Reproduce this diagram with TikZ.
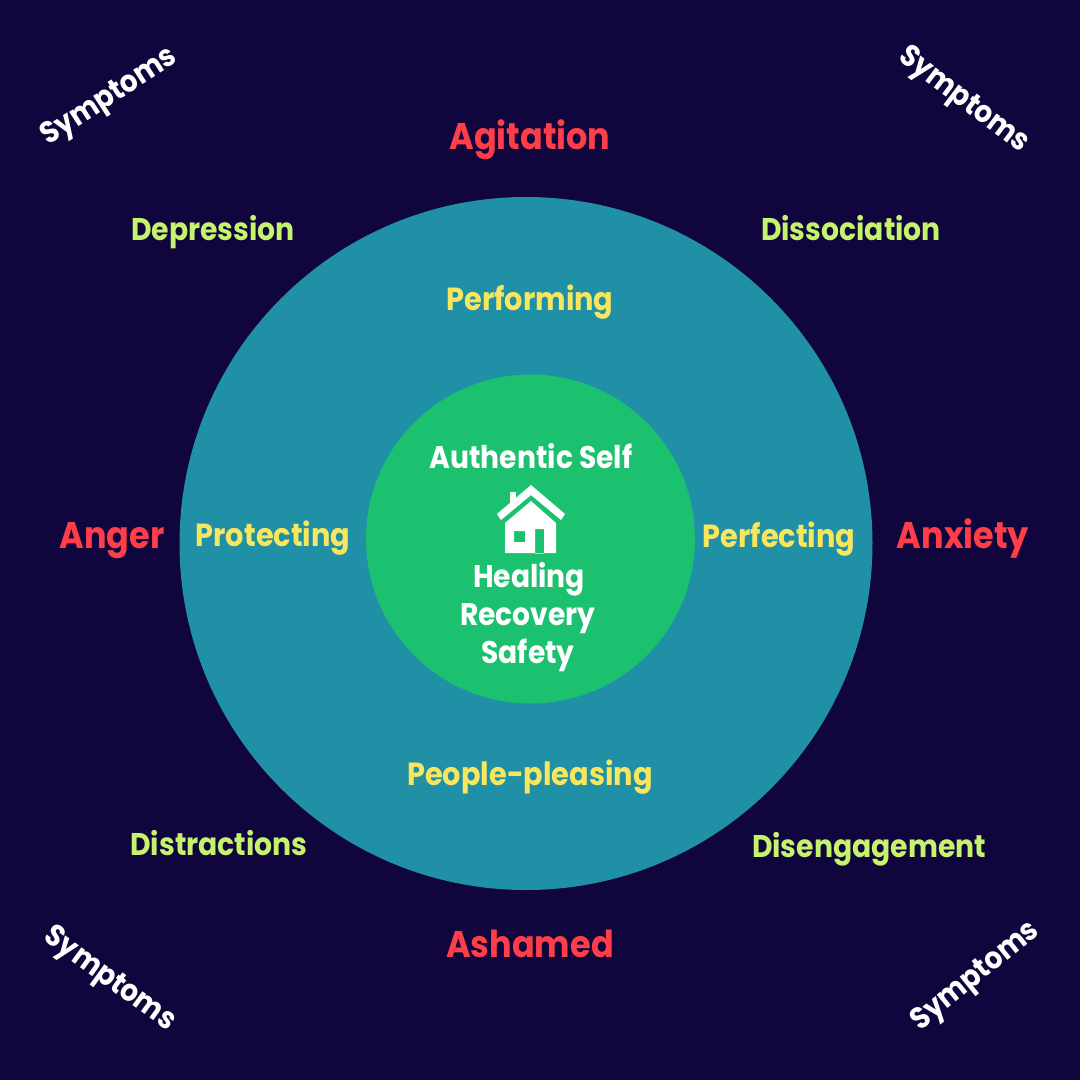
\documentclass[tikz,border=0pt]{standalone}
\usepackage{fontspec}
\setmainfont{Poppins}
\definecolor{bgc}{HTML}{10053D}
\definecolor{tealc}{HTML}{1F90A6}
\definecolor{greenc}{HTML}{1BC16F}
\definecolor{redc}{HTML}{FF3E4A}
\definecolor{limec}{HTML}{C6F36C}
\definecolor{yellowc}{HTML}{F7E65E}
\begin{document}
\begin{tikzpicture}[x=1pt,y=-1pt,
  lbl/.style={inner sep=0pt,anchor=base,xscale=0.9},
  redlbl/.style={lbl,text=redc,font=\bfseries\fontsize{37.2}{40}\selectfont},
  limelbl/.style={lbl,text=limec,font=\bfseries\fontsize{31.4}{34}\selectfont},
  yellowlbl/.style={lbl,text=yellowc,font=\bfseries\fontsize{32}{34}\selectfont},
  whitelbl/.style={lbl,text=white,font=\bfseries\fontsize{31.3}{34}\selectfont},
  symlbl/.style={inner sep=0pt,anchor=center,text=white,font=\bfseries\fontsize{30.5}{33}\selectfont}]
\fill[bgc] (0,0) rectangle (1080,1080);
\useasboundingbox (0,0) rectangle (1080,1080);
\fill[tealc] (526,543.5) circle[radius=346.5];
\fill[greenc] (530.5,539) circle[radius=164.5];
% house icon
\begin{scope}[white]
\fill (510,492) rectangle (516,508);
\fill (497,514) -- (531,485) -- (565,514) -- (561,520) -- (531,495) -- (501,520) -- cycle;
\fill[even odd rule] (505,523) -- (531,501) -- (556,523) -- (556,553) -- (505,553) -- cycle
  (514,531) rectangle (525,542)
  (535,529) rectangle (544,553.5);
\end{scope}
\node[redlbl] (agit) at (530,149) {Agitation};
\node[redlbl] (ashamed) at (530,957) {Ashamed};
\node[redlbl] (anger) at (112,548) {Anger};
\node[redlbl] (anx) at (963,548) {Anxiety};
\node[limelbl] (dep) at (213,240) {Depression};
\node[limelbl] (dis) at (851,240) {Dissociation};
\node[limelbl] (distr) at (219,855) {Distractions};
\node[limelbl] (diseng) at (869,857) {Disengagement};
\node[yellowlbl] (perform) at (530,310) {Performing};
\node[yellowlbl] (protect) at (273,546) {Protecting};
\node[yellowlbl] (perfect) at (779,547) {Perfecting};
\node[yellowlbl] (people) at (530,785) {People-pleasing};
\node[whitelbl] (auth) at (531,468) {Authentic Self};
\node[whitelbl] (heal) at (529,587) {Healing};
\node[whitelbl] (recov) at (528,625) {Recovery};
\node[whitelbl] (safe) at (528,663) {Safety};
\node[symlbl,rotate=33,xscale=0.9] (s1) at (110,98) {Symptoms};
\node[symlbl,rotate=-37,xscale=0.9] (s2) at (963,101) {Symptoms};
\node[symlbl,rotate=-36,xscale=0.9] (s3) at (109,980) {Symptoms};
\node[symlbl,rotate=39,xscale=0.9] (s4) at (976,977) {Symptoms};
\end{tikzpicture}
\end{document}
